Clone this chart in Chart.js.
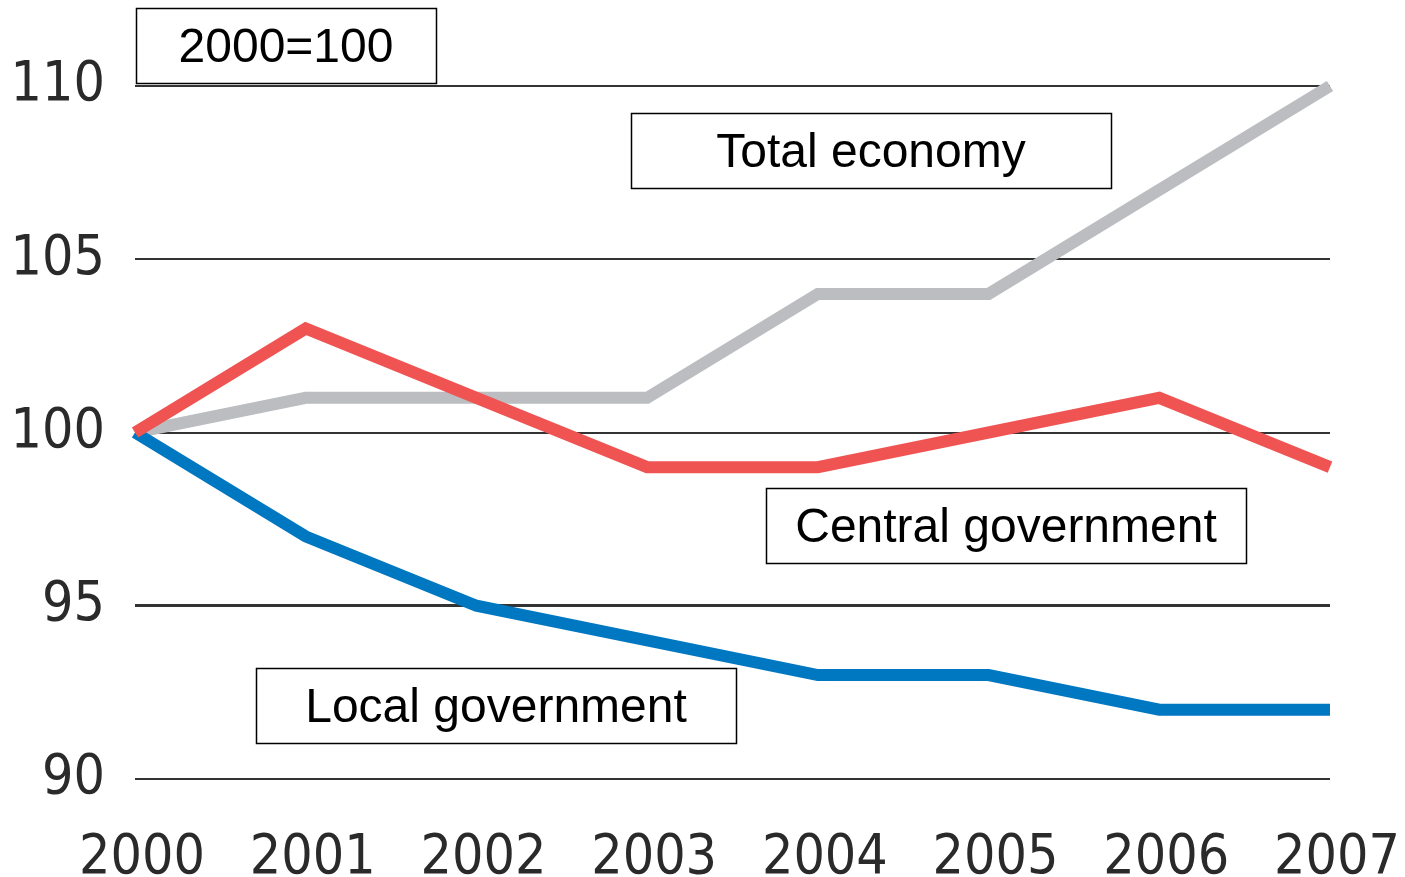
<!DOCTYPE html>
<html>
<head>
<meta charset="utf-8">
<script src="https://cdn.jsdelivr.net/npm/chart.js@4/dist/chart.umd.min.js"></script>
<style>
  html, body { margin: 0; padding: 0; background: #fff; }
  #wrap { width: 1405px; height: 877px; }
</style>
</head>
<body>
<div id="wrap"><canvas id="chart_1" width="1405" height="877"></canvas></div>
<script>
// data (index, 2000 = 100)
const years = ["2000", "2001", "2002", "2003", "2004", "2005", "2006", "2007"];
const totalEconomy = [100, 101, 101, 101, 104, 104, 107, 110];
const centralGov = [100, 103, 101, 99, 99, 100, 101, 99];
const localGov = [100, 97, 95, 94, 93, 93, 92, 92];
const yTicks = [90, 95, 100, 105, 110];

const labelTexts = ["2000=100", "Total economy", "Central government", "Local government"];
// box layout in canvas pixels: [x, y, w, h]
const labelBoxes = [[136, 8, 300, 75], [631, 113, 480, 75], [766, 488, 480, 75], [256, 668, 480, 75]];

const tickFont = { family: "'DejaVu Sans Condensed', 'DejaVu Sans', sans-serif", size: 55 };

const boxPlugin = {
    id: "boxes",
    afterDraw(chart) {
        const ctx = chart.ctx;
        ctx.save();
        ctx.font = "48px 'Liberation Sans', Arial, sans-serif";
        ctx.textAlign = "center";
        ctx.textBaseline = "middle";
        labelBoxes.forEach((b, i) => {
            ctx.fillStyle = "#fff";
            ctx.fillRect(b[0], b[1], b[2], b[3]);
            ctx.strokeStyle = "#000";
            ctx.lineWidth = 1.5;
            ctx.strokeRect(b[0] + 0.5, b[1] + 0.5, b[2], b[3]);
            ctx.fillStyle = "#000";
            ctx.fillText(labelTexts[i], b[0] + b[2] / 2, b[1] + b[3] / 2 + 3);
        });
        ctx.restore();
    }
};

const lineStyle = {
    borderWidth: 12,
    pointRadius: 0,
    tension: 0,
    fill: false,
    clip: false,
    borderJoinStyle: "miter",
    borderCapStyle: "butt"
};

new Chart(document.getElementById("chart_1").getContext("2d"), {
    type: "line",
    data: {
        labels: years,
        datasets: [
            { label: "Central government", data: centralGov, borderColor: "#EF5453", ...lineStyle },
            { label: "Local government", data: localGov, borderColor: "#0077C1", ...lineStyle },
            { label: "Total economy", data: totalEconomy, borderColor: "#BBBDC0", ...lineStyle }
        ]
    },
    options: {
        responsive: false,
        animation: false,
        layout: { padding: { top: 86, right: 75, left: 0, bottom: 0 } },
        plugins: {
            legend: { display: false },
            tooltip: { enabled: false }
        },
        scales: {
            x: {
                grid: { display: false, drawTicks: false },
                border: { display: false },
                ticks: {
                    color: "#2a2a2a",
                    font: tickFont,
                    padding: 47,
                    labelOffset: 7,
                    maxRotation: 0,
                    autoSkip: false
                },
                afterFit(scale) {
                    scale.height = 98;
                    scale.paddingLeft = 0;
                    scale.paddingRight = 0;
                }
            },
            y: {
                min: 90,
                max: 110,
                afterBuildTicks(scale) { scale.ticks = yTicks.map(v => ({ value: v })); },
                grid: {
                    color: "#333",
                    lineWidth: c => (c.tick && c.tick.value === 95 ? 3 : 2),
                    drawTicks: false
                },
                border: { display: false },
                ticks: {
                    color: "#2a2a2a",
                    font: tickFont,
                    padding: 30
                },
                afterFit(scale) { scale.width = 135; }
            }
        }
    },
    plugins: [boxPlugin]
});
</script>
</body>
</html>
